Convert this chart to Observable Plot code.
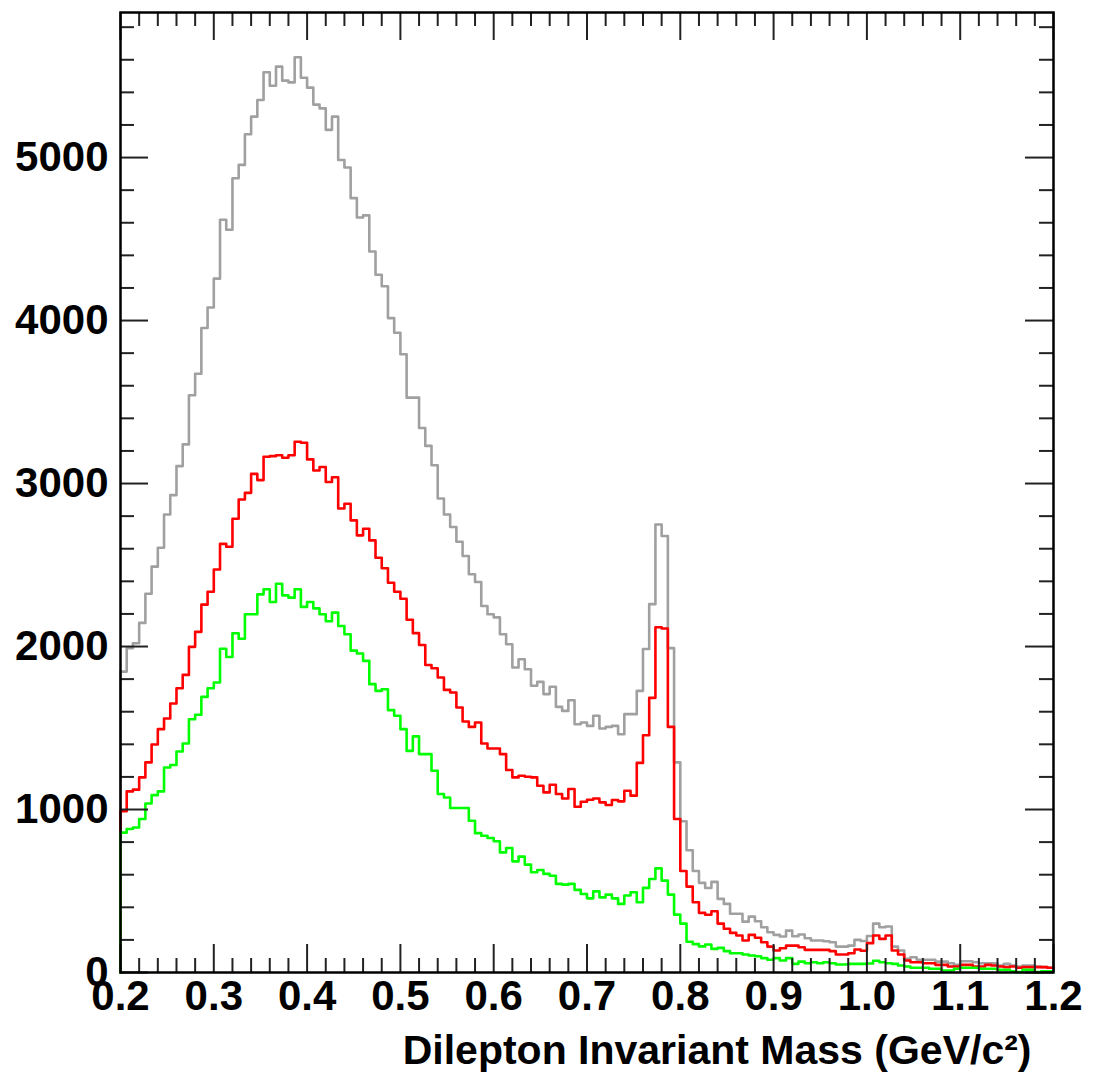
<!DOCTYPE html>
<html>
<head>
<meta charset="utf-8">
<script src="https://cdn.jsdelivr.net/npm/d3@7"></script>
<script src="https://cdn.jsdelivr.net/npm/@observablehq/plot@0.6"></script>
<style>
  html, body { margin: 0; padding: 0; background: #ffffff; }
  #chart svg { display: block; }
</style>
</head>
<body>
<div id="chart"></div>
<script>
// Histogram range and binning (150 bins from 0.2 to 1.2 GeV/c^2)
const xMin = 0.2;
const xMax = 1.2;
const nBins = 150;
const yMax = 5890;

// Gray histogram (total)
const grayCounts = [
  1846, 1990, 2020, 2145, 2324, 2490, 2606, 2810, 2929, 3107,
  3240, 3542, 3674, 3954, 4080, 4257, 4618, 4557, 4873, 4955,
  5143, 5251, 5353, 5523, 5441, 5558, 5472, 5461, 5615, 5490,
  5429, 5325, 5302, 5170, 5251, 4985, 4939, 4751, 4632, 4645,
  4424, 4281, 4210, 4015, 3925, 3793, 3527, 3527, 3341, 3231,
  3112, 2908, 2810, 2733, 2643, 2555, 2443, 2396, 2249, 2198,
  2179, 2075, 2014, 1871, 1922, 1861, 1759, 1783, 1708, 1753,
  1630, 1605, 1670, 1523, 1534, 1513, 1575, 1497, 1507, 1513,
  1462, 1585, 1585, 1728, 1985, 2260, 2749, 2678, 1990, 1289,
  928, 750, 623, 550, 518, 556, 452, 421, 360, 360,
  312, 343, 314, 278, 247, 231, 221, 257, 222, 233,
  210, 196, 196, 192, 186, 159, 159, 165, 200, 193,
  224, 300, 278, 282, 159, 135, 84, 94, 78, 78,
  78, 67, 67, 57, 47, 69, 69, 63, 57, 57,
  57, 43, 53, 43, 37, 43, 43, 37, 33, 29
];

// Red histogram
const redCounts = [
  990, 1111, 1122, 1197, 1289, 1399, 1493, 1558, 1650, 1744,
  1826, 1998, 2090, 2257, 2336, 2473, 2630, 2612, 2784, 2902,
  2943, 3059, 3021, 3164, 3168, 3174, 3158, 3174, 3256, 3250,
  3148, 3080, 3101, 3009, 3039, 2847, 2876, 2774, 2682, 2723,
  2651, 2545, 2480, 2391, 2336, 2293, 2164, 2082, 2009, 1887,
  1867, 1810, 1734, 1718, 1626, 1540, 1507, 1534, 1405, 1374,
  1374, 1340, 1242, 1197, 1207, 1201, 1197, 1146, 1105, 1152,
  1095, 1068, 1126, 1017, 1048, 1060, 1068, 1044, 1028, 1058,
  1050, 1115, 1085, 1286, 1456, 1685, 2118, 2111, 1507, 942,
  623, 527, 431, 366, 354, 376, 300, 268, 243, 227,
  196, 231, 213, 186, 159, 135, 149, 165, 165, 155,
  139, 139, 139, 139, 131, 110, 110, 118, 141, 133,
  180, 227, 206, 227, 135, 110, 74, 63, 63, 57,
  57, 47, 47, 37, 37, 47, 47, 37, 37, 47,
  43, 37, 33, 37, 29, 33, 33, 33, 33, 29
];

// Green histogram
const greenCounts = [
  858, 880, 890, 942, 1037, 1088, 1111, 1258, 1273, 1356,
  1405, 1554, 1581, 1691, 1744, 1779, 1986, 1936, 2081, 2048,
  2198, 2198, 2320, 2351, 2273, 2385, 2314, 2300, 2351, 2243,
  2273, 2234, 2198, 2155, 2208, 2126, 2075, 1975, 1957, 1912,
  1769, 1728, 1738, 1610, 1575, 1493, 1360, 1449, 1340, 1340,
  1238, 1095, 1074, 1009, 1009, 1009, 931, 855, 839, 825,
  805, 737, 764, 682, 711, 662, 615, 629, 605, 594,
  544, 539, 544, 507, 482, 455, 498, 461, 478, 455,
  421, 472, 492, 431, 519, 574, 639, 564, 478, 355,
  300, 189, 174, 160, 172, 145, 151, 131, 118, 118,
  110, 104, 100, 88, 78, 88, 74, 88, 53, 67,
  57, 63, 57, 63, 57, 49, 49, 53, 53, 53,
  55, 72, 63, 57, 53, 43, 37, 29, 29, 29,
  23, 23, 12, 12, 23, 29, 29, 29, 23, 23,
  23, 16, 16, 8, 2, 16, 16, 2, 8, 8
];

// Axis tick values and labels
const xTickValues = [0.2, 0.3, 0.4, 0.5, 0.6, 0.7, 0.8, 0.9, 1.0, 1.1, 1.2];
const xTickLabels = ["0.2", "0.3", "0.4", "0.5", "0.6", "0.7", "0.8", "0.9", "1.0", "1.1", "1.2"];
const yTickValues = [0, 1000, 2000, 3000, 4000, 5000];
const yTickLabels = ["0", "1000", "2000", "3000", "4000", "5000"];
const xMinorStep = 0.02;
const yMinorStep = 200;
const xTitle = "Dilepton Invariant Mass (GeV/c²)";

// Build step-histogram vertices (bin low edges) from the counts
const binWidth = (xMax - xMin) / nBins;
function steps(counts) {
  const pts = [{x: xMin, y: 0}];
  counts.forEach((c, i) => pts.push({x: xMin + i * binWidth, y: c}));
  pts.push({x: xMax, y: counts[counts.length - 1]});
  return pts;
}

const W = 1095, H = 1076;
const mL = 120, mR = 42, mT = 12, mB = 104;
const FW = W - mL - mR;   // frame width
const FH = H - mT - mB;   // frame height
const majorLen = 28, minorLen = 14;

const xMinor = d3.range(xMin, xMax + 1e-9, xMinorStep).filter(v => !xTickValues.some(t => Math.abs(t - v) < 1e-6));
const yMinor = d3.range(0, yMax, yMinorStep).filter(v => !yTickValues.includes(v));
const yMajorAll = d3.range(0, yMax, 1000);

const tickStyle = {stroke: "#222", strokeWidth: 2};

const chart = Plot.plot({
  width: W,
  height: H,
  marginLeft: mL,
  marginRight: mR,
  marginTop: mT,
  marginBottom: mB,
  x: {domain: [xMin, xMax]},
  y: {domain: [0, yMax]},
  style: {
    fontFamily: "'Liberation Sans', Arial, Helvetica, sans-serif",
    fontWeight: "bold",
    background: "#ffffff",
    color: "#000000"
  },
  marks: [
    // histograms
    Plot.line(steps(grayCounts), {x: "x", y: "y", curve: "step-after", stroke: "#a0a0a0", strokeWidth: 2.6}),
    Plot.line(steps(redCounts), {x: "x", y: "y", curve: "step-after", stroke: "#ff0000", strokeWidth: 2.6}),
    Plot.line(steps(greenCounts), {x: "x", y: "y", curve: "step-after", stroke: "#00ff00", strokeWidth: 2.6}),

    // bottom ticks (inward)
    Plot.tickX(xTickValues, {x: d => d, insetTop: FH - majorLen, ...tickStyle}),
    Plot.tickX(xMinor, {x: d => d, insetTop: FH - minorLen, ...tickStyle}),
    // top ticks (inward)
    Plot.tickX(xTickValues, {x: d => d, insetBottom: FH - majorLen, ...tickStyle}),
    Plot.tickX(xMinor, {x: d => d, insetBottom: FH - minorLen, ...tickStyle}),
    // left ticks (inward)
    Plot.tickY(yMajorAll, {y: d => d, insetRight: FW - majorLen, ...tickStyle}),
    Plot.tickY(yMinor, {y: d => d, insetRight: FW - minorLen, ...tickStyle}),
    // right ticks (inward)
    Plot.tickY(yMajorAll, {y: d => d, insetLeft: FW - majorLen, ...tickStyle}),
    Plot.tickY(yMinor, {y: d => d, insetLeft: FW - minorLen, ...tickStyle}),

    Plot.frame({stroke: "#000", strokeWidth: 2.5}),

    Plot.axisX(xTickValues, {
      tickSize: 0, tickPadding: 8, fontSize: 42, fontWeight: "bold",
      tickFormat: d => xTickLabels[xTickValues.indexOf(d)], label: null
    }),
    Plot.axisY(yTickValues, {
      tickSize: 0, tickPadding: 12, fontSize: 42, fontWeight: "bold",
      tickFormat: d => yTickLabels[yTickValues.indexOf(d)], label: null
    }),
    Plot.text([xTitle], {
      text: d => d, frameAnchor: "bottom-right", textAnchor: "end", lineAnchor: "middle",
      dx: -22, dy: 78, fontSize: 41, fontWeight: "bold", fill: "#000"
    })
  ]
});

document.getElementById("chart").appendChild(chart);
</script>
</body>
</html>
